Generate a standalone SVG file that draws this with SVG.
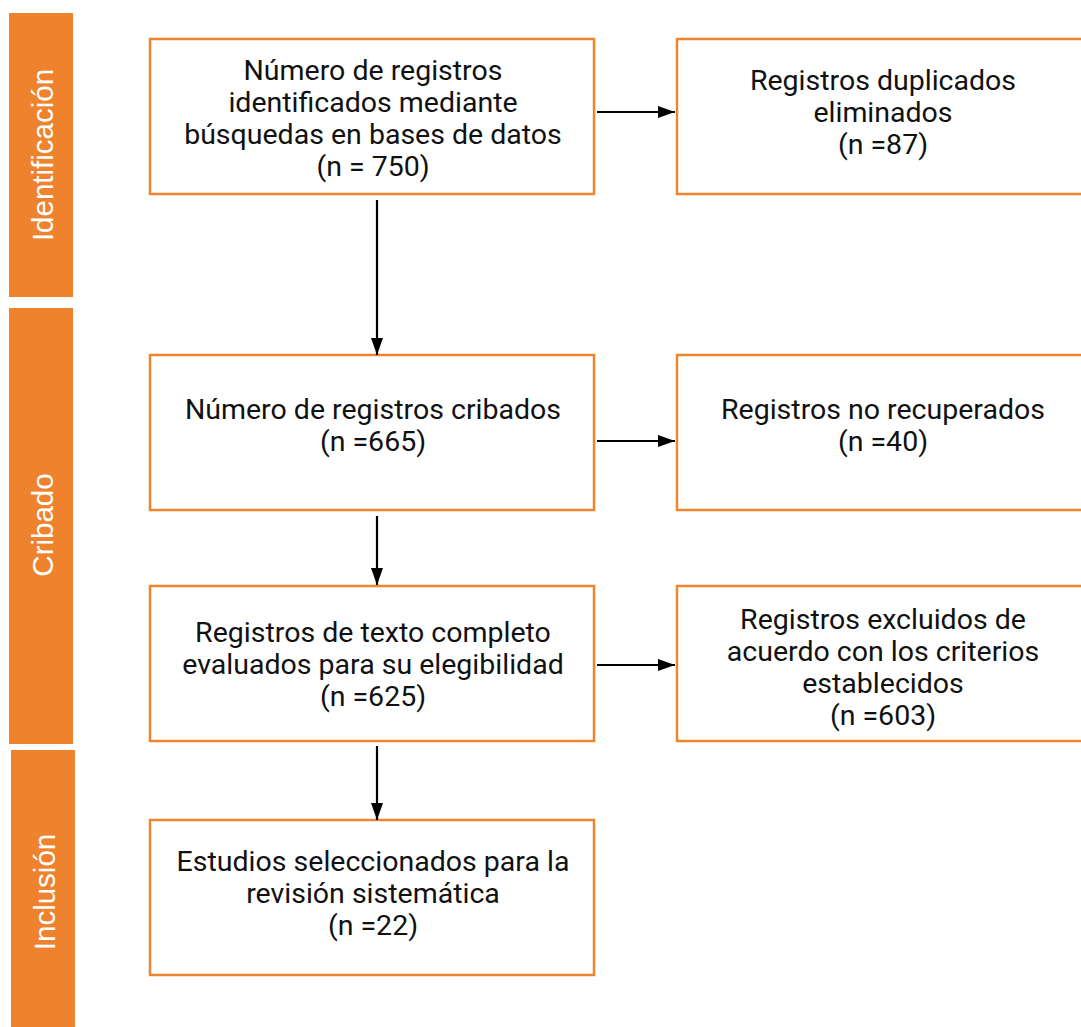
<svg xmlns="http://www.w3.org/2000/svg" width="1081" height="1027" viewBox="0 0 1081 1027">
<style>
.side{fill:#EE822D}
.stxt{font-family:"Liberation Sans",Arial,sans-serif;font-size:29.5px;fill:#ffffff;text-anchor:middle}
.box{fill:#ffffff;stroke:#F0852F;stroke-width:2.5}
.t{font-family:Roboto,"Liberation Sans",sans-serif;font-size:28.5px;fill:#111111;text-anchor:middle}
.c{stroke:#000000;stroke-width:2.2;fill:none}
</style>
<defs>
<marker id="ah" markerUnits="userSpaceOnUse" markerWidth="20" markerHeight="14" refX="17" refY="7" orient="auto">
<path d="M0,1 L17,7 L0,13 Z" fill="#000000"/>
</marker>
</defs>
<rect width="1081" height="1027" fill="#ffffff"/>
<g id="phase-identificacion">
<rect class="side" x="9" y="13" width="64" height="284"/>
<text class="stxt" transform="translate(53,155) rotate(-90)">Identificación</text>
</g>
<g id="phase-cribado">
<rect class="side" x="9" y="308" width="64" height="436"/>
<text class="stxt" transform="translate(53,525) rotate(-90)">Cribado</text>
</g>
<g id="phase-inclusion">
<rect class="side" x="11" y="750" width="64" height="277"/>
<text class="stxt" transform="translate(55,892) rotate(-90)">Inclusión</text>
</g>
<g id="n1">
<rect class="box" x="150" y="39" width="444" height="155"/>
<text class="t" x="373" y="80">Número de registros</text>
<text class="t" x="373" y="112">identificados mediante</text>
<text class="t" x="373" y="144">búsquedas en bases de datos</text>
<text class="t" x="373" y="176">(n = 750)</text>
</g>
<g id="n2">
<rect class="box" x="677" y="39" width="420" height="155"/>
<text class="t" x="883" y="90">Registros duplicados</text>
<text class="t" x="883" y="122">eliminados</text>
<text class="t" x="883" y="154">(n =87)</text>
</g>
<g id="n3">
<rect class="box" x="150" y="355" width="444" height="155"/>
<text class="t" x="373" y="419">Número de registros cribados</text>
<text class="t" x="373" y="451">(n =665)</text>
</g>
<g id="n4">
<rect class="box" x="677" y="355" width="420" height="155"/>
<text class="t" x="883" y="419">Registros no recuperados</text>
<text class="t" x="883" y="451">(n =40)</text>
</g>
<g id="n5">
<rect class="box" x="150" y="586" width="444" height="155"/>
<text class="t" x="373" y="642">Registros de texto completo</text>
<text class="t" x="373" y="674">evaluados para su elegibilidad</text>
<text class="t" x="373" y="706">(n =625)</text>
</g>
<g id="n6">
<rect class="box" x="677" y="586" width="420" height="155"/>
<text class="t" x="883" y="629">Registros excluidos de</text>
<text class="t" x="883" y="661">acuerdo con los criterios</text>
<text class="t" x="883" y="693">establecidos</text>
<text class="t" x="883" y="725">(n =603)</text>
</g>
<g id="n7">
<rect class="box" x="150" y="820" width="444" height="155"/>
<text class="t" x="373" y="871">Estudios seleccionados para la</text>
<text class="t" x="373" y="903">revisión sistemática</text>
<text class="t" x="373" y="935">(n =22)</text>
</g>
<g id="connectors">
<line class="c" x1="377" y1="200" x2="377" y2="355" marker-end="url(#ah)"/>
<line class="c" x1="377" y1="516" x2="377" y2="585" marker-end="url(#ah)"/>
<line class="c" x1="377" y1="746" x2="377" y2="820" marker-end="url(#ah)"/>
<line class="c" x1="597" y1="112" x2="675" y2="112" marker-end="url(#ah)"/>
<line class="c" x1="597" y1="441" x2="675" y2="441" marker-end="url(#ah)"/>
<line class="c" x1="597" y1="665" x2="675" y2="665" marker-end="url(#ah)"/>
</g>
</svg>
